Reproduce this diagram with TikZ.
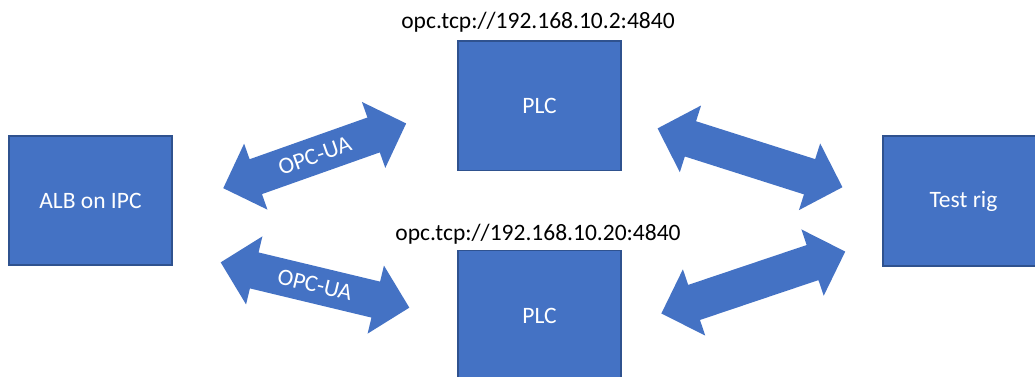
\documentclass[tikz,border=0pt]{standalone}
\usepackage{fontspec}
\setmainfont{Carlito}
\definecolor{boxblue}{HTML}{4472C4}
\definecolor{boxedge}{HTML}{2F528F}
\begin{document}
\begin{tikzpicture}[x=1pt,y=-1pt,
  txt/.style={font=\fontsize{23.5}{28}\selectfont},
  block/.style={txt, fill=boxblue, draw=boxedge, line width=1.2pt, text=white, inner sep=0pt},
  addr/.style={txt, text=black, inner sep=0pt},
  pics/dblarrow/.style={code={
    \fill[boxblue] (-97,0) -- (-62.5,35) -- (-62.5,18.5) -- (62.5,18.5) -- (62.5,35)
      -- (97,0) -- (62.5,-35) -- (62.5,-18.5) -- (-62.5,-18.5) -- (-62.5,-35) -- cycle;
    \node[txt, text=white, inner sep=0pt] (-label) {#1};
  }}
]
\useasboundingbox (0,0) rectangle (1035,376);
\clip (0,0) rectangle (1035,376);

% devices
\node[block, minimum width=163, minimum height=129] (alb) at (90.5,200.5) {ALB on IPC};
\node[block, minimum width=163, minimum height=129.5] (plcA) at (539.5,105.8) {PLC};
\node[block, minimum width=163, minimum height=129.5] (plcB) at (539.5,315.5) {PLC};
\node[block, minimum width=161, minimum height=130] (rig) at (963.5,201) {Test rig};

% endpoint addresses
\node[addr, anchor=base] (urlA) at (538,28.3) {opc.tcp://192.168.10.2:4840};
\node[addr, anchor=base] (urlB) at (538,240) {opc.tcp://192.168.10.20:4840};

% links
\pic[rotate=19.5, transform shape] (linkA) at (314.7,155.8) {dblarrow=OPC-UA};
\pic[rotate=-13.5, transform shape] (linkB) at (315,285) {dblarrow=OPC-UA};
\pic[rotate=-17.65, transform shape] (linkC) at (750,157.8) {dblarrow=};
\pic[rotate=18.6, transform shape] (linkD) at (753.3,282.5) {dblarrow=};
\end{tikzpicture}
\end{document}
